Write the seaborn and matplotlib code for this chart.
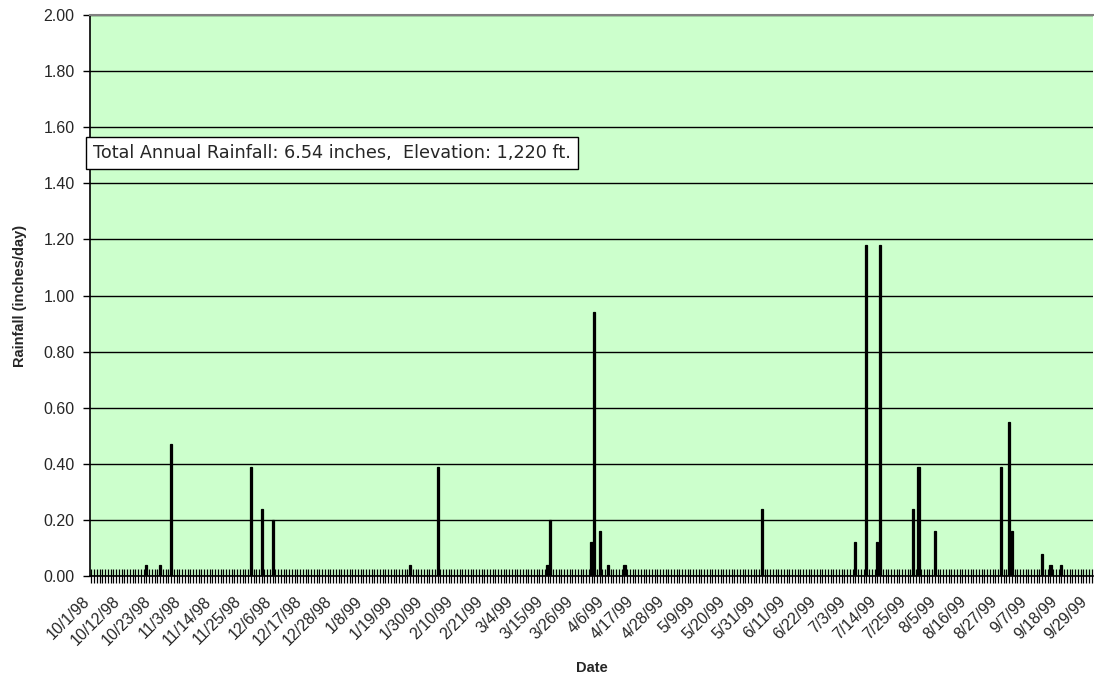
import matplotlib
matplotlib.use("Agg")
import pandas as pd
import seaborn as sns
import matplotlib.pyplot as plt
from matplotlib.transforms import ScaledTranslation

START = "1998-10-01"
END = "1999-09-30"

# days with measurable rain (all other days are 0)
rain_dates = ["1998-10-21", "1998-10-26", "1998-10-30", "1998-11-28", "1998-12-02",
              "1998-12-06", "1999-01-25", "1999-02-04", "1999-03-16", "1999-03-17",
              "1999-04-01", "1999-04-02", "1999-04-04", "1999-04-07", "1999-04-13",
              "1999-06-02", "1999-07-06", "1999-07-10", "1999-07-14", "1999-07-15",
              "1999-07-27", "1999-07-29", "1999-08-04", "1999-08-28", "1999-08-31",
              "1999-09-01", "1999-09-12", "1999-09-15", "1999-09-19"]
rain_values = [0.04, 0.04, 0.47, 0.39, 0.24,
               0.20, 0.04, 0.39, 0.04, 0.20,
               0.12, 0.94, 0.16, 0.04, 0.04,
               0.24, 0.12, 1.18, 0.12, 1.18,
               0.24, 0.39, 0.16, 0.39, 0.55,
               0.16, 0.08, 0.04, 0.04]
y_ticks = [0.0, 0.2, 0.4, 0.6, 0.8, 1.0, 1.2, 1.4, 1.6, 1.8, 2.0]
note = "Total Annual Rainfall: 6.54 inches,  Elevation: 1,220 ft."


def build_frame():
    days = pd.date_range(START, END, freq="D")
    df = pd.DataFrame({"date": days, "rain": 0.0})
    df = df.set_index("date")
    df.loc[pd.to_datetime(rain_dates), "rain"] = rain_values
    df = df.reset_index()
    df["label"] = [f"{d.month}/{d.day}/{d:%y}" for d in df["date"]]
    return df


def make_plot(df):
    sns.set_style("ticks")
    plt.rcParams["font.family"] = ["Liberation Sans", "DejaVu Sans"]

    fig = plt.figure(figsize=(10.94, 6.84), dpi=100)
    ax = fig.add_axes([90 / 1094, 1 - 576 / 684, 1003 / 1094, 561 / 684])
    ax.set_facecolor("#CCFFCC")

    sns.barplot(data=df, x="label", y="rain", order=list(df["label"]),
                color="black", edgecolor="black", linewidth=0.9,
                width=0.8, errorbar=None, saturation=1, ax=ax, zorder=3)

    ax.set_ylim(0, 2.0)
    ax.set_yticks(y_ticks)
    ax.set_yticklabels([f"{v:.2f}" for v in y_ticks], fontsize=11.5)
    ax.yaxis.grid(True, color="black", linewidth=1.0, zorder=1)
    ax.set_axisbelow(True)

    n = len(df)
    ax.set_xlim(-0.5, n - 0.5)
    ax.set_xticks(range(n))
    ax.set_xticklabels([lab if i % 11 == 0 else "" for i, lab in enumerate(df["label"])],
                       rotation=45, ha="right", rotation_mode="anchor", fontsize=11.5)
    ax.tick_params(axis="x", direction="inout", length=10, width=0.9, color="black", pad=2)
    ax.tick_params(axis="y", direction="out", length=5, width=1, color="black", pad=6)

    ax.spines["right"].set_visible(False)
    ax.spines["top"].set_color("#808080")
    ax.spines["top"].set_linewidth(1.5)
    for side in ["left", "bottom"]:
        ax.spines[side].set_color("black")
        ax.spines[side].set_linewidth(1.2)

    ax.set_xlabel("Date", fontsize=10.5, fontweight="bold")
    ax.xaxis.set_label_coords(0.5, -0.152)
    ax.set_ylabel("Rainfall (inches/day)", fontsize=10.5, fontweight="bold", labelpad=12)

    ax.text(3 / 1003, 1.508 / 2.0, note, transform=ax.transAxes, fontsize=12.7,
            family=["DejaVu Sans"], va="center", ha="left", zorder=5,
            bbox=dict(boxstyle="square,pad=0.4", facecolor="white",
                      edgecolor="black", linewidth=1))

    # Excel puts the rotated date labels a little left of and below their ticks
    fig.canvas.draw()
    shift = ScaledTranslation(-9 / 100, -8 / 100, fig.dpi_scale_trans)
    for tick in ax.xaxis.get_major_ticks():
        tick.label1.set_transform(tick.label1.get_transform() + shift)

    fig.savefig("out.png", dpi=100)
    plt.close(fig)


if __name__ == "__main__":
    make_plot(build_frame())
